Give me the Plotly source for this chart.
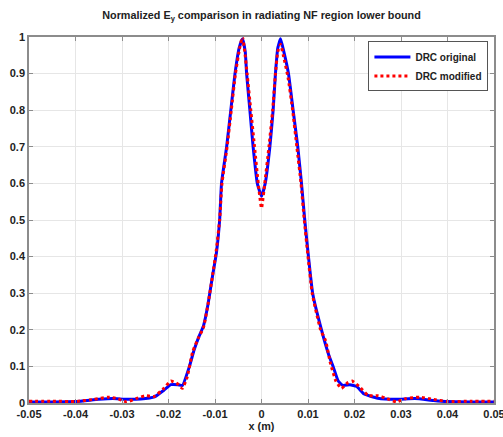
import plotly.graph_objects as go

x_orig = [-0.05, -0.045, -0.04, -0.035, -0.032, -0.029, -0.026, -0.023, -0.021, -0.0195, -0.018, -0.017,
          -0.0155, -0.0145, -0.0135, -0.0125, -0.0115, -0.0105, -0.0097, -0.009, -0.0086, -0.0075, -0.0066,
          -0.0057, -0.0048, -0.0041, -0.0035, -0.0032, -0.0025, -0.0018, -0.0009, 0.0, 0.0008, 0.0018,
          0.0025, 0.0030, 0.0035, 0.0041, 0.0048, 0.0058, 0.0068, 0.0078, 0.0086, 0.0093, 0.0101, 0.011,
          0.0129, 0.0145, 0.0154, 0.0165, 0.0175, 0.019, 0.0205, 0.022, 0.025, 0.029, 0.033, 0.037, 0.04,
          0.045, 0.05]
y_orig = [0.003, 0.003, 0.004, 0.010, 0.012, 0.010, 0.011, 0.017, 0.035, 0.050, 0.050, 0.048,
          0.10, 0.145, 0.18, 0.21, 0.27, 0.35, 0.41, 0.50, 0.60, 0.70, 0.80,
          0.90, 0.97, 0.995, 0.96, 0.90, 0.80, 0.70, 0.60, 0.565, 0.60, 0.70,
          0.80, 0.90, 0.97, 0.995, 0.96, 0.90, 0.80, 0.70, 0.60, 0.50, 0.40, 0.30,
          0.20, 0.13, 0.10, 0.06, 0.048, 0.050, 0.045, 0.025, 0.013, 0.010, 0.012, 0.007, 0.004,
          0.003, 0.003]

x_mod = [-0.05, -0.045, -0.04, -0.036, -0.033, -0.031, -0.029, -0.027, -0.025, -0.023, -0.021, -0.0195,
         -0.018, -0.017, -0.016, -0.0148, -0.0135, -0.0125, -0.0115, -0.0105, -0.0097, -0.009, -0.0085,
         -0.0074, -0.0065, -0.0056, -0.0047, -0.0041, -0.0036, -0.0031, -0.0023, -0.0015, -0.0007, 0.0,
         0.0007, 0.0016, 0.0024, 0.0030, 0.0035, 0.0041, 0.0047, 0.0057, 0.0067, 0.0076, 0.0085, 0.0092,
         0.010, 0.0109, 0.0127, 0.0138, 0.0148, 0.016, 0.0172, 0.0185, 0.0195, 0.021, 0.023, 0.025, 0.027,
         0.029, 0.031, 0.034, 0.037, 0.04, 0.045, 0.05]
y_mod = [0.005, 0.005, 0.004, 0.010, 0.016, 0.012, 0.003, 0.012, 0.020, 0.018, 0.040, 0.060,
         0.052, 0.040, 0.07, 0.14, 0.18, 0.205, 0.27, 0.35, 0.42, 0.50, 0.60,
         0.70, 0.80, 0.90, 0.97, 1.0, 0.96, 0.90, 0.80, 0.70, 0.60, 0.532,
         0.60, 0.70, 0.80, 0.90, 0.96, 0.98, 0.95, 0.89, 0.80, 0.70, 0.60, 0.50,
         0.40, 0.30, 0.20, 0.17, 0.11, 0.06, 0.040, 0.055, 0.060, 0.045, 0.020, 0.020, 0.012,
         0.003, 0.012, 0.016, 0.010, 0.004, 0.005, 0.005]

x_ticks = [-0.05, -0.04, -0.03, -0.02, -0.01, 0, 0.01, 0.02, 0.03, 0.04, 0.05]
x_tick_labels = ["-0.05", "-0.04", "-0.03", "-0.02", "-0.01", "0", "0.01", "0.02", "0.03", "0.04", "0.05"]
y_ticks = [0, 0.1, 0.2, 0.3, 0.4, 0.5, 0.6, 0.7, 0.8, 0.9, 1]
y_tick_labels = ["0", "0.1", "0.2", "0.3", "0.4", "0.5", "0.6", "0.7", "0.8", "0.9", "1"]

fig = go.Figure()
fig.add_trace(go.Scatter(x=x_orig, y=y_orig, mode="lines", name="DRC original",
                         line=dict(color="#0000ff", width=3, shape="spline", smoothing=0.4)))
fig.add_trace(go.Scatter(x=x_mod, y=y_mod, mode="lines", name="DRC modified",
                         line=dict(color="#ff0000", width=3, dash="dot", shape="spline", smoothing=0.4)))

axis_common = dict(showgrid=True, gridcolor="#e6e6e6", gridwidth=1, showline=True, linecolor="#8c8c8c",
                   linewidth=1.5, mirror="ticks", ticks="inside", ticklen=4, tickcolor="#8c8c8c",
                   zeroline=False, automargin=False, ticklabeloverflow="allow",
                   tickfont=dict(size=11, color="#222222", weight="bold"))

fig.update_layout(
    width=503, height=437,
    margin=dict(l=29, r=9, t=37, b=34, autoexpand=False),
    paper_bgcolor="white", plot_bgcolor="white",
    font=dict(family="Liberation Sans, Arial, sans-serif", color="#222222"),
    title=dict(text="Normalized E<sub>y</sub> comparison in radiating NF region lower bound",
               x=0.52, xanchor="center", y=0.965, yanchor="middle", automargin=False,
               font=dict(size=10.8, weight="bold", color="#222222")),
    xaxis=dict(range=[-0.05, 0.05], tickvals=x_ticks, ticktext=x_tick_labels, ticklabelstandoff=0,
               title=dict(text="x (m)", standoff=1, font=dict(size=10.8, weight="bold")), **axis_common),
    yaxis=dict(range=[0, 1], tickvals=y_ticks, ticktext=y_tick_labels, **axis_common),
    legend=dict(x=0.988, y=0.988, xanchor="right", yanchor="top", bgcolor="white",
                bordercolor="#555555", borderwidth=1, font=dict(size=10, weight="bold"),
                tracegroupgap=0, itemwidth=36),
    showlegend=True,
)

fig.write_html("out.html", config={"displayModeBar": False},
               post_script="document.body.style.margin='0';")
